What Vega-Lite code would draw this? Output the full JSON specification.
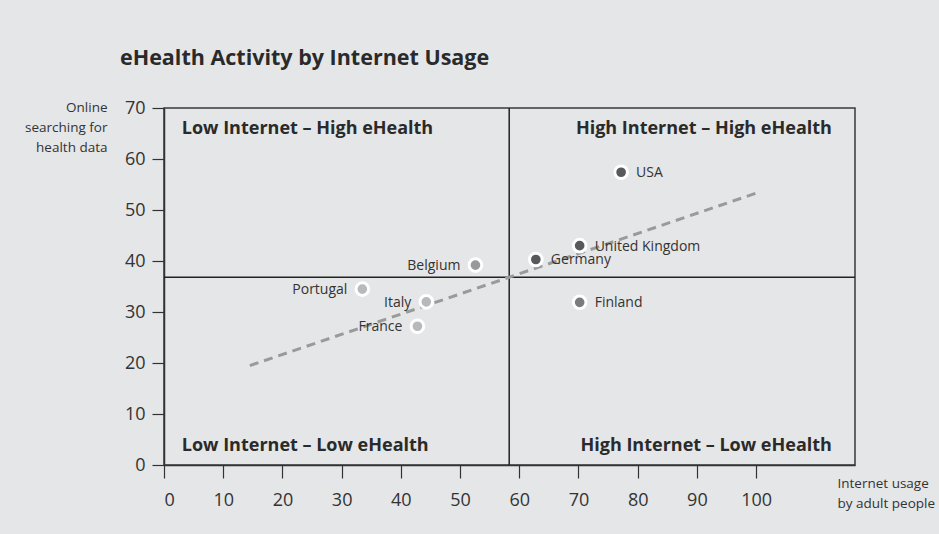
{
  "$schema": "https://vega.github.io/schema/vega-lite/v6.json",
  "width": 691,
  "height": 357,
  "autosize": {"type": "none"},
  "padding": {"left": 164, "top": 108, "right": 84, "bottom": 69},
  "background": "#e5e6e7",
  "title": {
    "text": "eHealth Activity by Internet Usage",
    "anchor": "start",
    "frame": "group",
    "dx": -44,
    "offset": 30,
    "font": "Open Sans",
    "fontSize": 21.5,
    "fontWeight": "bold",
    "color": "#2a2a2a"
  },
  "config": {
    "font": "Open Sans",
    "view": {"stroke": "#3a3a3a", "strokeWidth": 1.5},
    "axis": {
      "grid": false,
      "labelFont": "Open Sans",
      "labelFontSize": 18,
      "labelColor": "#333333",
      "tickColor": "#333333",
      "domainColor": "#333333",
      "domainWidth": 1.5,
      "tickWidth": 1.2,
      "titleFont": "Open Sans",
      "titleFontSize": 13.5,
      "titleFontWeight": "normal",
      "titleColor": "#333333",
      "titleLineHeight": 20
    }
  },
  "datasets": {
    "countries": [
      {"country": "USA", "internet": 77.2, "health": 57.4, "quadrant": "High Internet – High eHealth"},
      {"country": "United Kingdom", "internet": 70.2, "health": 43.0, "quadrant": "High Internet – High eHealth"},
      {"country": "Germany", "internet": 62.8, "health": 40.3, "quadrant": "High Internet – High eHealth"},
      {"country": "Finland", "internet": 70.2, "health": 31.9, "quadrant": "High Internet – Low eHealth"},
      {"country": "Belgium", "internet": 52.6, "health": 39.2, "quadrant": "Low Internet – High eHealth"},
      {"country": "Portugal", "internet": 33.5, "health": 34.5, "quadrant": "Low Internet – Low eHealth"},
      {"country": "Italy", "internet": 44.3, "health": 32.0, "quadrant": "Low Internet – Low eHealth"},
      {"country": "France", "internet": 42.8, "health": 27.2, "quadrant": "Low Internet – Low eHealth"}
    ],
    "trend": [
      {"internet": 14.5, "health": 19.5},
      {"internet": 100, "health": 53.3}
    ]
  },
  "layer": [
    {
      "data": {"values": [{}]},
      "mark": {"type": "rule", "color": "#222222", "strokeWidth": 1.5},
      "encoding": {
        "x": {
          "datum": 58.3,
          "type": "quantitative",
          "scale": {"domain": [0, 116.7], "nice": false, "zero": false},
          "axis": {
            "values": [0, 10, 20, 30, 40, 50, 60, 70, 80, 90, 100],
            "tickSize": 13,
            "labelPadding": 13,
            "title": ["Internet usage", "by adult people"],
            "titleAlign": "left",
            "titleAnchor": null,
            "titleX": 673,
            "titleY": 11,
            "titleBaseline": "top"
          }
        }
      }
    },
    {
      "data": {"values": [{}]},
      "mark": {"type": "rule", "color": "#222222", "strokeWidth": 1.5},
      "encoding": {
        "y": {
          "datum": 36.8,
          "type": "quantitative",
          "scale": {"domain": [0, 70], "nice": false, "zero": false},
          "axis": {
            "values": [0, 10, 20, 30, 40, 50, 60, 70],
            "tickSize": 12,
            "labelPadding": 7,
            "title": ["Online", "searching for", "health data"],
            "titleAngle": 0,
            "titleAlign": "right",
            "titleAnchor": null,
            "titleX": -57,
            "titleY": -8,
            "titleBaseline": "top"
          }
        }
      }
    },
    {
      "data": {"name": "trend"},
      "mark": {"type": "line", "color": "#9a9a9a", "strokeWidth": 3, "strokeDash": [9, 6]},
      "encoding": {
        "x": {"field": "internet", "type": "quantitative"},
        "y": {"field": "health", "type": "quantitative"}
      }
    },
    {
      "data": {"name": "countries"},
      "mark": {"type": "circle", "size": 160, "opacity": 1, "stroke": "white", "strokeWidth": 3},
      "encoding": {
        "x": {"field": "internet", "type": "quantitative"},
        "y": {"field": "health", "type": "quantitative"},
        "color": {
          "field": "quadrant",
          "type": "nominal",
          "scale": {
            "domain": ["High Internet – High eHealth", "High Internet – Low eHealth", "Low Internet – High eHealth", "Low Internet – Low eHealth"],
            "range": ["#58595b", "#7a7b7d", "#98999b", "#b8b9bb"]
          },
          "legend": null
        }
      }
    },
    {
      "data": {"name": "countries"},
      "transform": [{"filter": "datum.internet > 58.3"}],
      "mark": {"type": "text", "align": "left", "baseline": "middle", "dx": 15, "dy": 1, "fontSize": 14, "color": "#333333"},
      "encoding": {
        "x": {"field": "internet", "type": "quantitative"},
        "y": {"field": "health", "type": "quantitative"},
        "text": {"field": "country"}
      }
    },
    {
      "data": {"name": "countries"},
      "transform": [{"filter": "datum.internet < 58.3"}],
      "mark": {"type": "text", "align": "right", "baseline": "middle", "dx": -15, "dy": 1, "fontSize": 14, "color": "#333333"},
      "encoding": {
        "x": {"field": "internet", "type": "quantitative"},
        "y": {"field": "health", "type": "quantitative"},
        "text": {"field": "country"}
      }
    },
    {
      "data": {"values": [{"label": "Low Internet – High eHealth"}]},
      "mark": {"type": "text", "align": "left", "baseline": "alphabetic", "fontSize": 18, "fontWeight": "bold", "color": "#2a2a2a"},
      "encoding": {
        "x": {"datum": 3, "type": "quantitative"},
        "y": {"datum": 64.9, "type": "quantitative"},
        "text": {"field": "label"}
      }
    },
    {
      "data": {"values": [{"label": "High Internet – High eHealth"}]},
      "mark": {"type": "text", "align": "right", "baseline": "alphabetic", "fontSize": 18, "fontWeight": "bold", "color": "#2a2a2a"},
      "encoding": {
        "x": {"datum": 112.8, "type": "quantitative"},
        "y": {"datum": 64.9, "type": "quantitative"},
        "text": {"field": "label"}
      }
    },
    {
      "data": {"values": [{"label": "Low Internet – Low eHealth"}]},
      "mark": {"type": "text", "align": "left", "baseline": "alphabetic", "fontSize": 18, "fontWeight": "bold", "color": "#2a2a2a"},
      "encoding": {
        "x": {"datum": 3, "type": "quantitative"},
        "y": {"datum": 2.8, "type": "quantitative"},
        "text": {"field": "label"}
      }
    },
    {
      "data": {"values": [{"label": "High Internet – Low eHealth"}]},
      "mark": {"type": "text", "align": "right", "baseline": "alphabetic", "fontSize": 18, "fontWeight": "bold", "color": "#2a2a2a"},
      "encoding": {
        "x": {"datum": 112.8, "type": "quantitative"},
        "y": {"datum": 2.8, "type": "quantitative"},
        "text": {"field": "label"}
      }
    }
  ]
}
